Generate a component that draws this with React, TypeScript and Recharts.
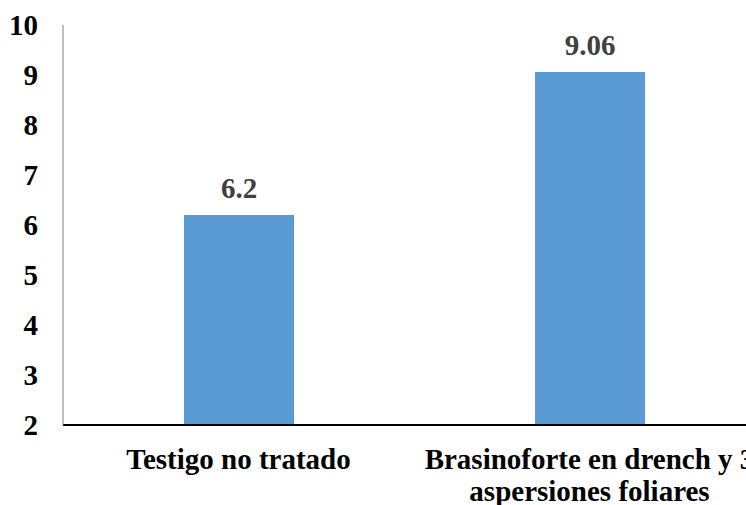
import { BarChart, Bar, XAxis, YAxis, LabelList } from 'recharts'

const categories = ['Testigo no tratado', 'Brasinoforte en drench y 3|aspersiones foliares']
const values = [6.2, 9.06]
const yTicks = [2, 3, 4, 5, 6, 7, 8, 9, 10]

const data = categories.map((name, i) => ({ name, value: values[i] }))

const FONT = 'Liberation Serif, Times New Roman, DejaVu Serif, serif'

const CategoryTick = (props: any) => {
  const { x, y, payload } = props
  const lines = String(payload.value).split('|')
  return (
    <text x={x} y={y} textAnchor="middle" style={{ fontFamily: FONT, fontWeight: 'bold', fontSize: 29 }} fill="#000">
      {lines.map((line, i) => (
        <tspan key={i} x={x} dy={i === 0 ? 44 : 32}>
          {line}
        </tspan>
      ))}
    </text>
  )
}

export default function App() {
  return (
    <div
      style={{
        position: 'fixed',
        left: 0,
        top: 0,
        width: 746,
        height: 505,
        overflow: 'hidden',
        background: '#fff',
        fontFamily: FONT,
      }}
    >
      <BarChart width={780} height={505} data={data} margin={{ top: 25, right: 15, left: 0, bottom: 0 }}>
        <XAxis
          dataKey="name"
          height={80}
          tickLine={false}
          tickSize={0}
          tickMargin={0}
          interval={0}
          axisLine={{ stroke: '#000', strokeWidth: 2 }}
          tick={<CategoryTick />}
        />
        <YAxis
          width={63}
          domain={[2, 10]}
          ticks={yTicks}
          allowDataOverflow
          tickLine={false}
          tickSize={0}
          tickMargin={25}
          axisLine={{ stroke: '#7f7f7f', strokeWidth: 1 }}
          tick={{ style: { fontFamily: FONT }, fontWeight: 'bold', fontSize: 29, fill: '#000' }}
        />
        <Bar dataKey="value" fill="#5B9BD5" barSize={110} isAnimationActive={false}>
          <LabelList
            dataKey="value"
            position="top"
            offset={17}
            style={{ fontFamily: FONT, fontWeight: 'bold', fontSize: 29, fill: '#404040' }}
          />
        </Bar>
      </BarChart>
    </div>
  )
}
